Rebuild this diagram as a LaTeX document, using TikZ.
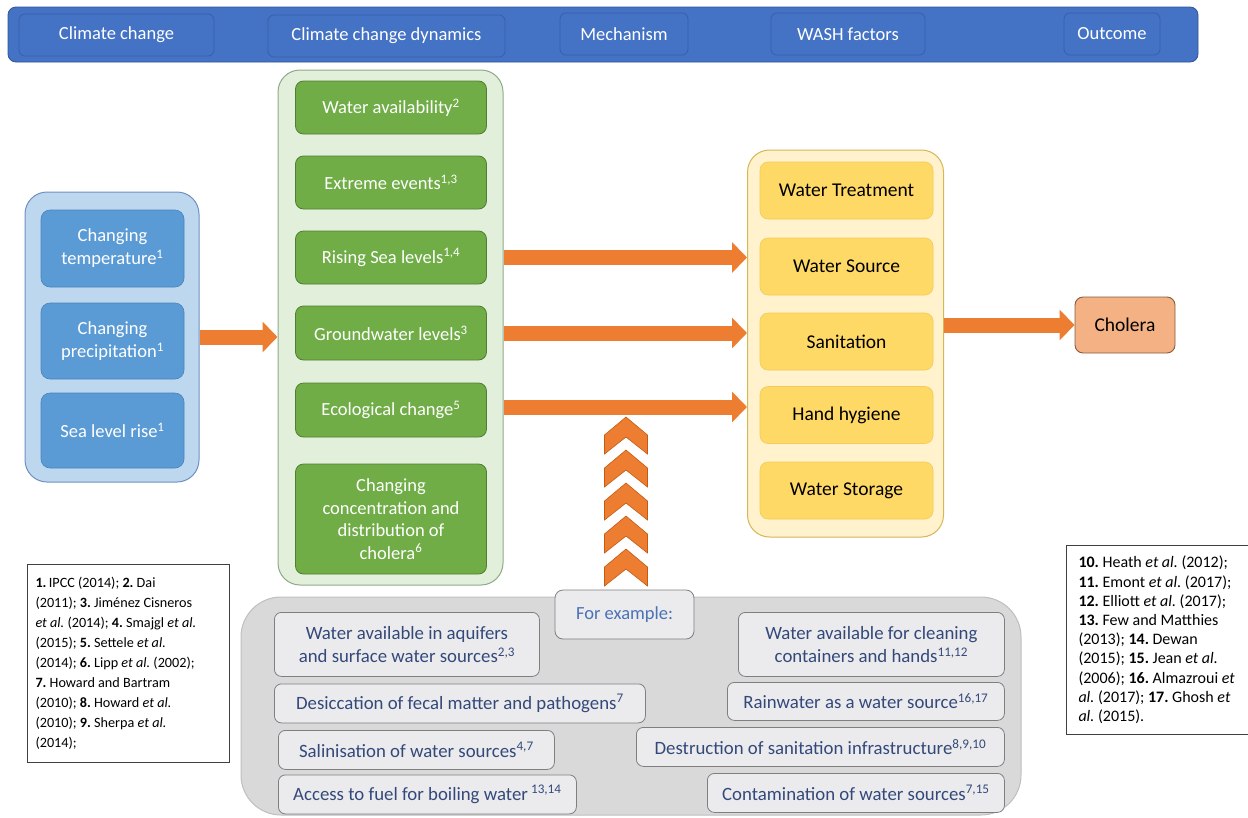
\documentclass[tikz,border=0pt]{standalone}
\usepackage{fontspec}
\setmainfont{Carlito}
\frenchspacing
\usetikzlibrary{arrows.meta}
\definecolor{bannerblue}{HTML}{4472C4}
\definecolor{bannerline}{HTML}{2F5597}
\definecolor{hdrline}{HTML}{3A5FA8}
\definecolor{lbluefill}{HTML}{BDD7EE}
\definecolor{lblueline}{HTML}{6F90C0}
\definecolor{bluebox}{HTML}{5B9BD5}
\definecolor{blueboxline}{HTML}{4A82BC}
\definecolor{lgreenfill}{HTML}{E2EFDA}
\definecolor{lgreenline}{HTML}{8FA98A}
\definecolor{greenbox}{HTML}{70AD47}
\definecolor{greenboxline}{HTML}{507E32}
\definecolor{lyellowfill}{HTML}{FFF2CC}
\definecolor{lyellowline}{HTML}{D6B656}
\definecolor{yellowbox}{HTML}{FFD966}
\definecolor{yellowboxline}{HTML}{F2CB5A}
\definecolor{cholfill}{HTML}{F4B183}
\definecolor{cholline}{HTML}{8B5A3C}
\definecolor{orangeA}{HTML}{ED7D31}
\definecolor{orangeline}{HTML}{C55A11}
\definecolor{grayfill}{HTML}{D9D9D9}
\definecolor{grayline}{HTML}{BFBFBF}
\definecolor{exfill}{HTML}{EBEBED}
\definecolor{exline}{HTML}{7F7F7F}
\definecolor{extext}{HTML}{33497A}
\definecolor{forex}{HTML}{4A72B5}
\begin{document}
\begin{tikzpicture}[x=1pt,y=-1pt,
  hdr/.style={draw=hdrline, fill=bannerblue, rounded corners=6pt, text=white, line width=0.8pt,
    font=\fontsize{18.5}{22}\selectfont, minimum height=42pt},
  cont/.style={rounded corners=22pt, line width=1pt},
  bbox/.style={fill=bluebox, draw=blueboxline, rounded corners=9pt, text=white, align=center,
    font=\fontsize{18.5}{23}\selectfont, minimum width=143pt, line width=0.6pt},
  gbox/.style={fill=greenbox, draw=greenboxline, rounded corners=8pt, text=white, align=center,
    font=\fontsize{18.5}{22.5}\selectfont, minimum width=191pt, line width=0.8pt},
  ybox/.style={fill=yellowbox, draw=yellowboxline, rounded corners=8pt, text=black, align=center,
    font=\fontsize{19.5}{23}\selectfont, minimum width=173pt, minimum height=57pt, line width=0.6pt},
  exbox/.style={fill=exfill, draw=exline, rounded corners=7pt, text=extext, align=center,
    font=\fontsize{18.8}{23}\selectfont, line width=0.8pt, anchor=north west, inner sep=0pt},
  refbox/.style={draw=black!75, fill=white, line width=1pt, align=flush left, anchor=north west,
    font=\fontsize{14.2}{20}\selectfont, inner xsep=8pt},
  bigarrow/.style={draw=orangeA, line width=15pt, -{Triangle[length=15pt,width=30pt]}},
  chev/.style={fill=orangeA, draw=orangeline, line width=0.6pt, line join=miter}
]
\clip (0,0) rectangle (1248,817);
\useasboundingbox (0,0) rectangle (1248,817);

% banner
\node[fill=bannerblue, draw=bannerline, rounded corners=8pt, line width=0.8pt,
  minimum width=1190pt, minimum height=55pt] (banner) at (603,34.5) {};
\node[hdr, minimum width=195pt] (h1) at (116.5,35) {Climate change};
\node[hdr, minimum width=237pt] (h2) at (386.5,36) {Climate change dynamics};
\node[hdr, minimum width=128pt] (h3) at (624,34) {Mechanism};
\node[hdr, minimum width=154pt] (h4) at (848,34) {WASH factors};
\node[hdr, minimum width=96pt] (h5) at (1112,34) {Outcome};

% left container
\node[cont, fill=lbluefill, draw=lblueline, minimum width=174pt, minimum height=290pt] (lc) at (112,337) {};
\node[bbox, minimum height=77pt] (b1) at (112.5,248.5) {Changing\\temperature\textsuperscript{1}};
\node[bbox, minimum height=76pt] (b2) at (112.5,341) {Changing\\precipitation\textsuperscript{1}};
\node[bbox, minimum height=75pt] (b3) at (112.5,430.5) {Sea level rise\textsuperscript{1}};

% green container
\node[cont, fill=lgreenfill, draw=lgreenline, minimum width=225pt, minimum height=515pt] (gc) at (390.5,327.5) {};
\node[gbox, minimum height=53pt] (g1) at (391,107.5) {Water availability\textsuperscript{2}};
\node[gbox, minimum height=53pt] (g2) at (391,182.5) {Extreme events\textsuperscript{1,3}};
\node[gbox, minimum height=53pt] (g3) at (391,257.5) {Rising Sea levels\textsuperscript{1,4}};
\node[gbox, minimum height=54pt] (g4) at (391,333) {Groundwater levels\textsuperscript{3}};
\node[gbox, minimum height=54pt] (g5) at (391,410) {Ecological change\textsuperscript{5}};
\node[gbox, minimum height=110pt] (g6) at (391,519) {Changing\\concentration and\\distribution of\\cholera\textsuperscript{6}};

% yellow container
\node[cont, fill=lyellowfill, draw=lyellowline, minimum width=196pt, minimum height=387pt] (yc) at (845.5,343.5) {};
\node[ybox] (y1) at (846.5,190.5) {Water Treatment};
\node[ybox] (y2) at (846.5,266.5) {Water Source};
\node[ybox] (y3) at (846.5,341.5) {Sanitation};
\node[ybox] (y4) at (846.5,415) {Hand hygiene};
\node[ybox] (y5) at (846.5,490.5) {Water Storage};

% cholera
\node[fill=cholfill, draw=cholline, rounded corners=8pt, line width=0.9pt, minimum width=100pt,
  minimum height=56pt, font=\fontsize{19.5}{23}\selectfont, text=black] (ch) at (1125,325) {Cholera};

% arrows
\draw[bigarrow] (lc.east) -- (lc.east -| gc.west);
\draw[bigarrow] (g3 -| gc.east) -- (g3 -| yc.west);
\draw[bigarrow] (g4 -| gc.east) -- (g4 -| yc.west);
\draw[bigarrow] ([yshift=3pt]g5 -| gc.east) -- ([yshift=3pt]g5 -| yc.west);
\draw[bigarrow] (yc.east |- ch) -- (ch.west);

% gray container
\node[fill=grayfill, draw=grayline, rounded corners=40pt, line width=1pt,
  minimum width=780pt, minimum height=218pt] (gray) at (631,706) {};

% chevrons
\foreach \k in {0,...,4}{
  \pgfmathsetmacro{\a}{417+33*\k}
  \fill[chev] (626,\a) -- (647.5,\a+18) -- (647.5,\a+37) -- (626,\a+20) -- (604.5,\a+37) -- (604.5,\a+18) -- cycle;
}

% for example
\node[fill=exfill, draw=exline, rounded corners=8pt, line width=0.8pt, minimum width=139pt,
  minimum height=49pt, text=forex, font=\fontsize{18.5}{22}\selectfont] (fe) at (624.5,614.5) {For example:};

% example boxes
\node[exbox, minimum width=265pt, minimum height=64pt] (e1) at (274,612) {Water available in aquifers\\and surface water sources\textsuperscript{2,3}};
\node[exbox, minimum width=371pt, minimum height=39pt] (e2) at (274,683.5) {Desiccation of fecal matter and pathogens\textsuperscript{7}};
\node[exbox, minimum width=276pt, minimum height=39pt] (e3) at (278,730) {Salinisation of water sources\textsuperscript{4,7}};
\node[exbox, minimum width=298pt, minimum height=39pt] (e4) at (278,774.5) {Access to fuel for boiling water\,\textsuperscript{13,14}};
\node[exbox, minimum width=266pt, minimum height=64pt] (e5) at (738,612) {Water available for cleaning\\containers and hands\textsuperscript{11,12}};
\node[exbox, minimum width=277pt, minimum height=38pt] (e6) at (727,682) {Rainwater as a water source\textsuperscript{16,17}};
\node[exbox, minimum width=368pt, minimum height=39pt] (e7) at (636,727) {Destruction of sanitation infrastructure\textsuperscript{8,9,10}};
\node[exbox, minimum width=297pt, minimum height=39pt] (e8) at (707,773) {Contamination of water sources\textsuperscript{7,15}};

% reference boxes
\node[refbox, text width=186pt, minimum height=198pt] (refL) at (27,564) {%
\textbf{1.}\,IPCC (2014); \textbf{2.} Dai\\
(2011); \textbf{3.} Jiménez Cisneros\\
\textit{et al.} (2014); \textbf{4.} Smajgl \textit{et al.}\\
(2015); \textbf{5.} Settele \textit{et al.}\\
(2014); \textbf{6.} Lipp \textit{et al.} (2002);\\
\textbf{7.} Howard and Bartram\\
(2010); \textbf{8.} Howard \textit{et al.}\\
(2010); \textbf{9.} Sherpa \textit{et al.}\\
(2014);};
\node[refbox, text width=190pt, minimum height=189pt, inner xsep=12pt,
  font=\fontsize{16}{19.2}\selectfont] (refR) at (1066,545) {%
\textbf{10.} Heath \textit{et al.} (2012);\\
\textbf{11.} Emont \textit{et al.} (2017);\\
\textbf{12.} Elliott \textit{et al.} (2017);\\
\textbf{13.} Few and Matthies\\
(2013); \textbf{14.} Dewan\\
(2015); \textbf{15.} Jean \textit{et al.}\\
(2006); \textbf{16.} Almazroui \textit{et}\\
\textit{al.} (2017); \textbf{17.} Ghosh \textit{et}\\
\textit{al.} (2015).};
\end{tikzpicture}
\end{document}
